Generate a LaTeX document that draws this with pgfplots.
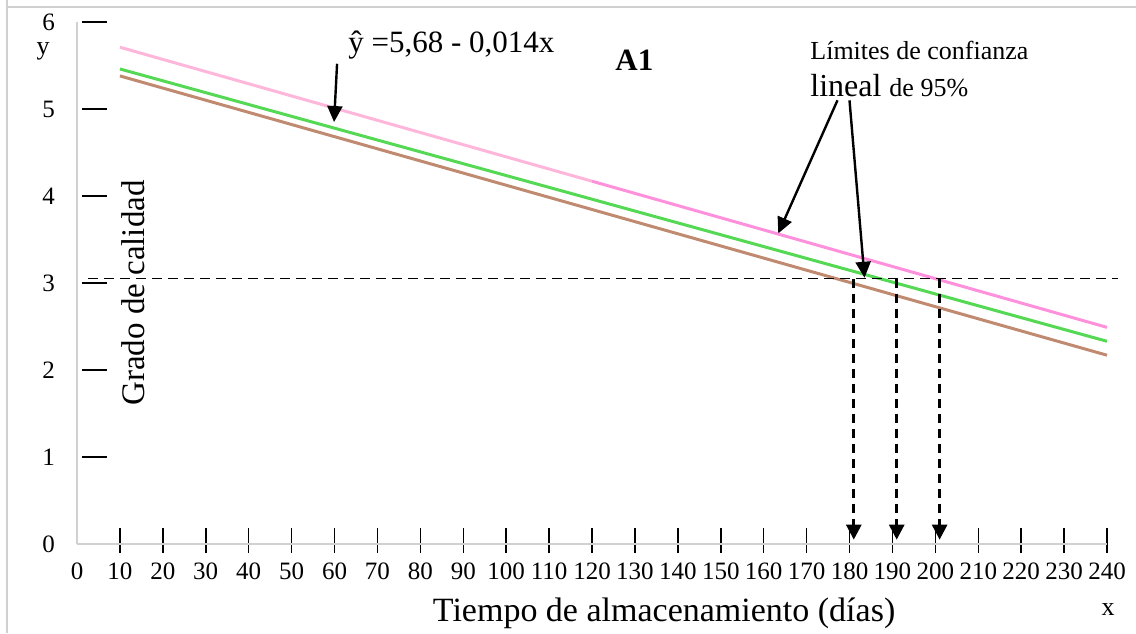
\documentclass[border=0pt]{standalone}
\usepackage{pgfplots}
\pgfplotsset{compat=1.18}
\usepackage{fontspec}
\setmainfont{Liberation Serif}
\usetikzlibrary{arrows.meta}

\definecolor{pinkA}{HTML}{FFB6DB}
\definecolor{pinkB}{HTML}{FF90DC}
\definecolor{lgreen}{HTML}{55D955}
\definecolor{lbrown}{HTML}{C08A70}
\definecolor{axgray}{HTML}{D0D0D0}

\begin{document}
\begin{tikzpicture}
% 1 px of the reference = 0.5pt
\useasboundingbox (0,0) rectangle (568pt,316.5pt);
\draw[axgray, line width=1pt] (3.5pt,316.5pt) -- (3.5pt,313pt) -- (568pt,313pt);
\draw[axgray, line width=1pt] (3.5pt,0pt) -- (3.5pt,313pt);

\begin{axis}[
    at={(38.5pt,44.5pt)}, anchor=south west,
    scale only axis,
    width=515pt, height=261pt,
    xmin=0, xmax=240, ymin=0, ymax=6,
    clip=false,
    axis x line*=bottom, axis y line*=left,
    axis line style={axgray, line width=0.6pt, -},
    xtick={10,20,...,240},
    ytick={1,2,...,6},
    extra x ticks={0}, extra y ticks={0},
    extra tick style={major tick length=0pt},
    tick align=inside,
    major tick length=12.5pt,
    every tick/.style={black, line width=0.75pt},
    xtick style={yshift=-4.5pt},
    ytick style={xshift=2.5pt},
    /pgf/number format/assume math mode=true,
    tick label style={font=\fontsize{12.5}{14}\selectfont},
    xticklabel style={yshift=-6pt},
    yticklabel style={xshift=-7.5pt},
    xlabel={Tiempo de almacenamiento (días)},
    ylabel={Grado de calidad},
    every axis x label/.style={at={(axis description cs:0.570,-0.1475)}, anchor=base, font=\fontsize{17}{19}\selectfont},
    every axis y label/.style={at={(axis description cs:0.0544,0.481)}, anchor=center, rotate=90, font=\fontsize{16.5}{19}\selectfont},
]
% upper 95% limit
\addplot[pinkA, line width=1.5pt] coordinates {(10,5.71) (120,4.17)};
\addplot[pinkB, line width=1.5pt] coordinates {(120,4.17) (240,2.49)};
% fitted line
\addplot[lgreen, line width=1.5pt] coordinates {(10,5.46) (240,2.33)};
% lower 95% limit
\addplot[lbrown, line width=1.5pt] coordinates {(10,5.38) (240,2.17)};

% quality limit y = 3
\draw[black, line width=0.6pt, dash pattern=on 5pt off 3pt] (axis cs:2.6,3.05) -- (axis cs:242.6,3.05);
% shelf-life drops
\draw[black, line width=1.4pt, dash pattern=on 4.5pt off 3pt, -{Triangle[width=7.5pt,length=7.5pt]}]
  (axis cs:181,3.05) -- (axis cs:181,0.05);
\draw[black, line width=1.4pt, dash pattern=on 4.5pt off 3pt, -{Triangle[width=7.5pt,length=7.5pt]}]
  (axis cs:191,3.05) -- (axis cs:191,0.05);
\draw[black, line width=1.4pt, dash pattern=on 4.5pt off 3pt, -{Triangle[width=7.5pt,length=7.5pt]}]
  (axis cs:201,3.05) -- (axis cs:201,0.05);
% annotation arrows
\draw[black, line width=1.2pt, -{Triangle[width=7.5pt,length=8pt]}] (axis cs:60.6,5.52) -- (axis cs:59.9,4.85);
\draw[black, line width=1.2pt, -{Triangle[width=7.5pt,length=8pt]}] (axis cs:177.2,5.10) -- (axis cs:163.4,3.57);
\draw[black, line width=1.2pt, -{Triangle[width=7.5pt,length=8pt]}] (axis cs:180,5.10) -- (axis cs:183.5,3.06);
\end{axis}

% texts (positions in reference pixels / 2)
\node[anchor=center, font=\fontsize{13}{15}\selectfont] at (21.5pt,291pt) {y};
\node[anchor=center, font=\fontsize{13}{15}\selectfont] at (554pt,11.5pt) {x};
\node[anchor=base west, inner sep=0pt, font=\fontsize{15.5}{18}\selectfont] at (174pt,290pt) {ŷ =5,68 - 0,014x};
\node[anchor=base west, inner sep=0pt, font=\fontsize{15.5}{18}\bfseries] at (307.5pt,281pt) {A1};
\node[anchor=base west, inner sep=0pt, font=\fontsize{13}{15}\selectfont] at (405pt,286.5pt) {Límites de confianza};
\node[anchor=base west, inner sep=0pt] at (405pt,268pt) {\fontsize{16}{18}\selectfont lineal \fontsize{13}{15}\selectfont de 95\%};
\end{tikzpicture}
\end{document}
